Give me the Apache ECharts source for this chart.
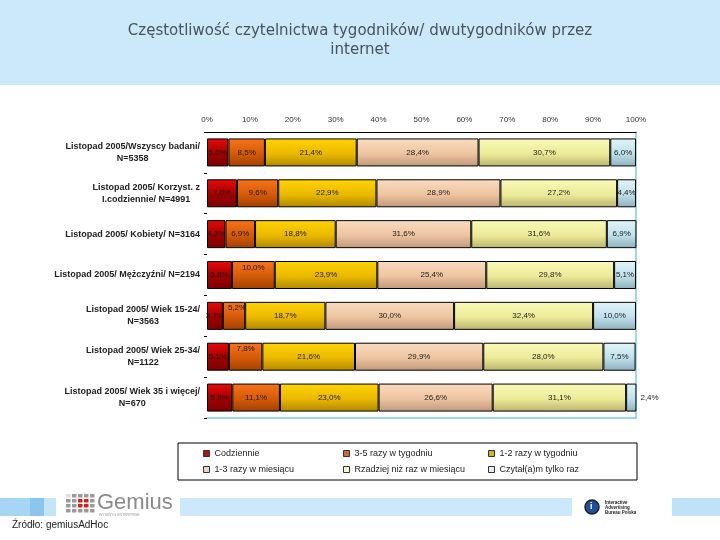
<!DOCTYPE html>
<html>
<head>
<meta charset="utf-8">
<script src="https://cdn.jsdelivr.net/npm/echarts@6/dist/echarts.min.js"></script>
<style>html,body{margin:0;padding:0;background:#fff}#c{width:720px;height:540px}</style>
</head>
<body>
<div id="c"></div>
<script>
const categories = [
  "Listopad 2005/Wszyscy badani/\nN=5358",
  "Listopad 2005/ Korzyst. z\nI.codziennie/ N=4991",
  "Listopad 2005/ Kobiety/ N=3164",
  "Listopad 2005/ Mężczyźni/ N=2194",
  "Listopad 2005/ Wiek 15-24/\nN=3563",
  "Listopad 2005/ Wiek 25-34/\nN=1122",
  "Listopad 2005/ Wiek 35 i więcej/\nN=670"
];
const seriesNames = ["Codziennie", "3-5 razy w tygodniu", "1-2 razy w tygodniu", "1-3 razy w miesiącu", "Rzadziej niż raz w miesiącu", "Czytał(a)m tylko raz"];
const codziennie = [5.0, 7.0, 4.3, 5.8, 3.7, 5.1, 5.9];
const razy35Tydz = [8.5, 9.6, 6.9, 10.0, 5.2, 7.8, 11.1];
const razy12Tydz = [21.4, 22.9, 18.8, 23.9, 18.7, 21.6, 23.0];
const razy13Mies = [28.4, 28.9, 31.6, 25.4, 30.0, 29.9, 26.6];
const rzadziej = [30.7, 27.2, 31.6, 29.8, 32.4, 28.0, 31.1];
const tylkoRaz = [6.0, 4.4, 6.9, 5.1, 10.0, 7.5, 2.4];
const xTicks = [0, 10, 20, 30, 40, 50, 60, 70, 80, 90, 100];

const values = [codziennie, razy35Tydz, razy12Tydz, razy13Mies, rzadziej, tylkoRaz];
const grads = [
  ['#e80a0a', '#a00000', '#7a0000'],
  ['#f8741c', '#d45a08', '#a04000'],
  ['#ffd400', '#eab800', '#b08800'],
  ['#fadcc0', '#edc4a0', '#c0987a'],
  ['#fafab8', '#ecea98', '#b8b470'],
  ['#e2f4fa', '#bfe0ea', '#8eb0bc']
];
const legendColors = ['#b01414', '#c8683c', '#d8b030', '#f0d8c0', '#fafad0', '#e0f0f8'];
// label tweaks (series index, category index) -> label options
const labelTweaks = {
  '1-3': {offset: [0, -7]},
  '1-4': {offset: [3, -8]},
  '1-5': {offset: [0, -8]},
  '5-6': {position: 'right', distance: 4}
};
function grad(c) {
  return {type: 'linear', x: 0, y: 0, x2: 0, y2: 1, colorStops: [
    {offset: 0, color: c[0]}, {offset: 0.55, color: c[1]}, {offset: 1, color: c[2]}]};
}
const fmt = v => v.toFixed(1).replace('.', ',') + '%';
const series = seriesNames.map((name, si) => ({
  name: name,
  type: 'bar',
  stack: 'total',
  barWidth: 28,
  itemStyle: {color: grad(grads[si]), borderColor: '#000', borderWidth: 1},
  label: {
    show: true, position: 'inside', fontSize: 8, color: '#1a1a1a',
    fontFamily: 'Liberation Sans',
    formatter: p => fmt(p.value)
  },
  data: values[si].map((v, ci) => {
    const t = labelTweaks[si + '-' + ci];
    return t ? {value: v, label: t} : v;
  })
}));
const legendPos = [[203, 449], [343, 449], [488, 449], [203, 465], [343, 465], [488, 465]];
const legends = seriesNames.map((n, i) => ({
  left: legendPos[i][0], top: legendPos[i][1], padding: 0,
  itemWidth: 6, itemHeight: 6, icon: 'rect',
  itemStyle: {color: legendColors[i], borderColor: '#333', borderWidth: 1},
  textStyle: {fontSize: 9, color: '#222', fontFamily: 'Liberation Sans'},
  data: [n]
}));

const chart = echarts.init(document.getElementById('c'));
chart.setOption({
  animation: false,
  backgroundColor: '#fff',
  textStyle: {fontFamily: 'Liberation Sans'},
  title: {
    text: 'Częstotliwość czytelnictwa tygodników/ dwutygodników przez\ninternet',
    left: 'center', top: 17,
    textStyle: {fontSize: 15, fontWeight: 'normal', color: '#48525c', lineHeight: 19, fontFamily: 'DejaVu Sans'}
  },
  grid: {left: 207, right: 84, top: 132, bottom: 122},
  xAxis: [{
    type: 'value', position: 'top', min: 0, max: 100, interval: 10,
    axisLine: {show: true, onZero: false, lineStyle: {color: '#000', width: 1}},
    axisTick: {show: false},
    splitLine: {show: false},
    axisLabel: {fontSize: 8, color: '#333', margin: 8, formatter: v => xTicks.includes(v) ? v + '%' : ''}
  }, {
    type: 'value', position: 'bottom', min: 0, max: 100,
    axisLine: {show: true, onZero: false, lineStyle: {color: '#7ccbe4', width: 1.5}},
    axisTick: {show: false}, axisLabel: {show: false}, splitLine: {show: false}
  }],
  yAxis: [{
    type: 'category', inverse: true, data: categories,
    axisLine: {show: false, onZero: false},
    axisTick: {show: true, length: 3, lineStyle: {color: '#000'}},
    axisLabel: {
      margin: 7, fontSize: 9, fontWeight: 'bold', color: '#222', lineHeight: 12,
      formatter: v => v.split('\n').map(s => '{c|' + s + '}').join('\n'),
      rich: {c: {align: 'center', fontSize: 9, fontWeight: 'bold', color: '#222', lineHeight: 12, fontFamily: 'Liberation Sans'}}
    }
  }, {
    type: 'value', position: 'right',
    axisLine: {show: true, onZero: false, lineStyle: {color: '#7ccbe4', width: 1.5}},
    axisTick: {show: false}, axisLabel: {show: false}, splitLine: {show: false}
  }],
  legend: legends,
  graphic: [
    {type: 'rect', z: -10, shape: {x: 0, y: 0, width: 720, height: 85}, style: {fill: '#cce9fb'}},
    {type: 'rect', shape: {x: 178, y: 443, width: 459, height: 37}, style: {fill: 'none', stroke: '#000', lineWidth: 1}},
    // footer band
    {type: 'rect', shape: {x: 0, y: 498, width: 30, height: 18}, style: {fill: '#a6d6f3'}},
    {type: 'rect', shape: {x: 30, y: 498, width: 14, height: 18}, style: {fill: '#8cc6ee'}},
    {type: 'rect', shape: {x: 44, y: 498, width: 12, height: 18}, style: {fill: '#c4e4f8'}},
    {type: 'rect', shape: {x: 180, y: 498, width: 392, height: 18}, style: {fill: '#cce9fb'}},
    {type: 'rect', shape: {x: 672, y: 498, width: 48, height: 18}, style: {fill: '#bfe2f8'}},
    // Gemius logo
    {type: 'group', children: (function () {
      const out = [];
      for (let r = 0; r < 4; r++) for (let c = 0; c < 5; c++) {
        const red = (r >= 1 && r <= 2 && c >= 2 && c <= 3);
        out.push({type: 'rect', shape: {x: 66 + c * 6, y: 494 + r * 5, width: 4.5, height: 3.5},
          style: {fill: red ? '#d42020' : (r === 0 && c < 1 ? '#ddd' : '#9a9a9a')}});
      }
      return out;
    })()},
    {type: 'text', style: {x: 97, y: 492, text: 'Gemius', fontSize: 22, fill: '#8a8a8a', fontFamily: 'Liberation Sans'}},
    {type: 'text', style: {x: 99, y: 513, text: 'WYSIWYG ENTERPRISE', fontSize: 3.5, fill: '#999', fontFamily: 'Liberation Sans'}},
    // IAB logo
    {type: 'circle', shape: {cx: 592, cy: 507, r: 7}, style: {fill: '#1f4f9a', stroke: '#222', lineWidth: 1.5}},
    {type: 'text', style: {x: 590, y: 502, text: 'i', fontSize: 9, fill: '#fff', fontWeight: 'bold'}},
    {type: 'text', style: {x: 605, y: 500, text: 'Interactive\nAdvertising\nBureau Polska', fontSize: 4.5, lineHeight: 5, fill: '#222', fontWeight: 'bold'}},
    {type: 'text', style: {x: 12, y: 520, text: 'Źródło: gemiusAdHoc', fontSize: 10, fill: '#222', fontFamily: 'Liberation Sans'}}
  ],
  series: series
});
</script>
</body>
</html>
